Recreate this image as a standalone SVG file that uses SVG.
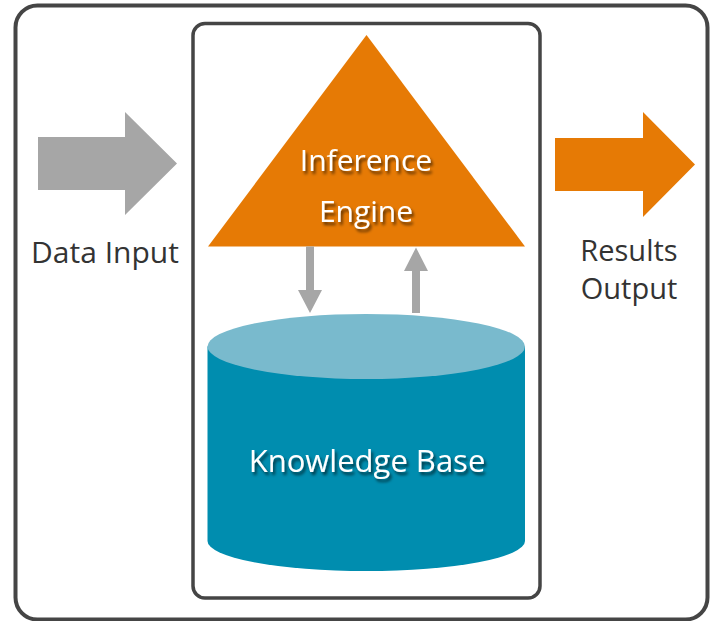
<svg xmlns="http://www.w3.org/2000/svg" width="710" height="621" viewBox="0 0 710 621">
<defs>
<style>
.frame{fill:#fff;stroke:#454545;stroke-width:4}
.inner{fill:#fff;stroke:#454545;stroke-width:3.5}
.lbl{font-family:"Open Sans","Noto Sans",sans-serif;fill:#333;font-size:30px;text-anchor:middle}
.wlbl{font-family:"Open Sans","Noto Sans",sans-serif;fill:#fff;font-size:30px;text-anchor:middle;filter:url(#sh)}
.gray{fill:#a6a6a6}
.orange{fill:#e67a05}
</style>
<filter id="sh" x="-10%" y="-30%" width="130%" height="170%">
<feDropShadow dx="2" dy="3" stdDeviation="1.5" flood-color="#000" flood-opacity="0.6"/>
</filter>
</defs>
<rect class="frame" x="15.5" y="5.5" width="692" height="614" rx="22"/>
<g id="system">
<rect class="inner" x="193" y="23.5" width="347" height="574.5" rx="12"/>
</g>
<g id="input">
<polygon class="gray" points="38,137 125,137 125,112 177,163.5 125,215 125,190 38,190"/>
<text class="lbl" x="105" y="263">Data Input</text>
</g>
<g id="output">
<polygon class="orange" points="555,138 643,138 643,112 695,164.5 643,217 643,191 555,191"/>
<text class="lbl" x="629" y="261" style="font-size:29px">Results</text>
<text class="lbl" x="629" y="299" style="font-size:29px">Output</text>
</g>
<g id="engine">
<polygon class="orange" points="366.5,35 525,246.5 208,246.5"/>
<text class="wlbl" x="366" y="171">Inference</text>
<text class="wlbl" x="366" y="222">Engine</text>
</g>
<g id="kb">
<path d="M207.5,346.5 L207.5,541 A158.75,30 0 0 0 525,541 L525,346.5 Z" fill="#008daf"/>
<ellipse cx="366.25" cy="346.5" rx="158.75" ry="32.5" fill="#79bacd"/>
<text class="wlbl" x="367" y="472" style="font-size:31px">Knowledge Base</text>
</g>
<g id="connectors">
<polygon class="gray" points="306,246.5 314,246.5 314,290 322,290 310,313 298,290 306,290"/>
<polygon class="gray" points="412,313 420,313 420,271 428,271 416,247.5 404,271 412,271"/>
</g>
</svg>
